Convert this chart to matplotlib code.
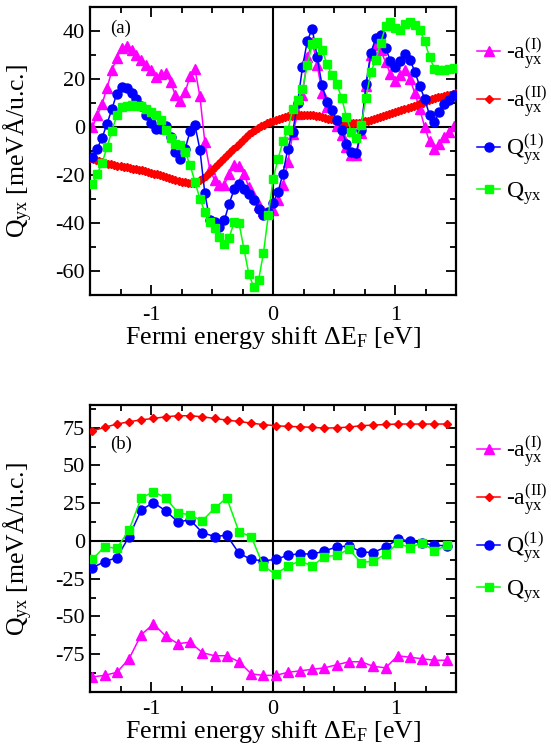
import numpy as np
import matplotlib
matplotlib.use("Agg")
import matplotlib.pyplot as plt

plt.rcParams['font.family'] = ['Liberation Serif', 'DejaVu Serif']
plt.rcParams['mathtext.fontset'] = 'custom'
plt.rcParams['mathtext.rm'] = 'Liberation Serif'
plt.rcParams['mathtext.it'] = 'Liberation Serif:italic'

# ---- panel (a): fine energy grid ----
E_a = np.round(np.arange(-1.48, 1.4801, 0.04), 3)
E_a_II = np.round(np.arange(-1.5, 1.5001, 0.025), 3)

aI_a = [0.0, 4.9, 9.7, 16.4, 23.6, 28.9, 33.1, 33.7, 32.2, 29.9,
        27.8, 26.0, 23.6, 20.8, 21.9, 22.5, 18.7, 13.2, 10.8, 14.6,
        21.4, 24.0, 12.8, -6.2, -17.4, -22.2, -24.3, -24.0, -19.4, -16.0,
        -16.4, -19.5, -25.0, -29.2, -32.5, -35.0, -36.0, -34.5, -30.5, -24.0,
        -14.5, -3.0, 5.5, 13.5, 29.0, 35.5, 26.0, 14.0, 8.5, 4.5,
        0.5, -3.5, -8.3, -11.5, -11.8, -2.5, 17.0, 30.0, 34.0, 32.0,
        27.0, 22.0, 19.0, 21.5, 23.6, 20.0, 14.0, 7.5, 0.0, -6.0,
        -9.0, -7.0, -4.2, -2.1, 0.5]

aII_a = [-13.0, -13.4, -13.8, -14.1, -14.5, -14.9, -15.3, -15.6, -16.0, -16.2,
         -16.4, -16.6, -16.8, -17.0, -17.3, -17.5, -17.8, -18.1, -18.4, -18.7,
         -19.0, -19.4, -19.7, -20.1, -20.5, -20.9, -21.3, -21.6, -22.0, -22.4,
         -22.8, -23.1, -23.3, -23.4, -23.3, -22.9, -22.2, -21.3, -20.3, -19.1,
         -17.8, -16.7, -15.5, -14.2, -13.0, -11.8, -10.5, -9.1, -7.8, -6.5,
         -5.3, -4.1, -3.0, -2.0, -1.2, -0.4, 0.3, 1.0, 1.6, 2.1,
         2.6, 3.1, 3.5, 3.9, 4.2, 4.5, 4.7, 4.9, 5.0, 5.1,
         5.1, 5.1, 5.0, 4.9, 4.7, 4.5, 4.2, 3.9, 3.5, 3.2,
         2.8, 2.4, 2.1, 1.8, 1.6, 1.5, 1.5, 1.6, 1.8, 2.0,
         2.3, 2.6, 3.0, 3.4, 3.8, 4.2, 4.6, 5.0, 5.4, 5.8,
         6.2, 6.6, 7.0, 7.4, 7.9, 8.3, 8.8, 9.3, 9.8, 10.2,
         10.7, 11.1, 11.6, 12.0, 12.3, 12.6, 12.9, 13.2, 13.5, 13.8,
         14.0]

Q1_a = [-12.5, -9.0, -4.4, 1.4, 7.6, 13.9, 16.7, 16.4, 14.2, 11.8,
        8.6, 5.1, 1.7, -0.7, -0.7, 0.3, -4.2, -10.4, -13.2, -9.0,
        -1.7, 0.7, -9.4, -27.5, -38.6, -39.6, -41.7, -38.9, -31.9, -26.0,
        -23.6, -25.7, -27.8, -30.6, -34.0, -36.8, -35.4, -31.5, -27.0, -19.4,
        -9.0, -2.0, 10.0, 25.0, 36.0, 41.0, 29.0, 17.4, 10.4, 7.0,
        3.0, -1.4, -6.9, -10.4, -10.8, -1.4, 18.0, 31.0, 37.0, 38.5,
        33.0, 27.5, 25.0, 27.5, 30.5, 28.0, 23.0, 17.0, 11.8, 5.0,
        2.0, 6.3, 9.7, 11.1, 13.2]

Q_a = [-23.6, -19.4, -14.9, -8.3, -1.5, 4.9, 8.3, 8.6, 9.0, 8.6,
       8.6, 7.6, 6.2, 4.9, 2.8, -1.4, -4.4, -6.9, -7.6, -10.4,
       -16.0, -22.9, -29.9, -35.4, -39.6, -42.1, -45.8, -48.6, -46.1, -39.6,
       -40.0, -50.7, -61.1, -66.7, -63.9, -52.6, -36.8, -21.5, -13.2, -6.0,
       -1.4, 7.6, 11.1, 15.8, 26.0, 34.5, 35.4, 32.0, 26.4, 21.5,
       18.0, 12.2, 4.2, -2.1, -4.4, 0.7, 12.2, 22.9, 28.0, 35.0,
       41.9, 43.7, 41.4, 40.3, 42.8, 43.7, 42.4, 40.3, 35.8, 29.2,
       24.3, 23.6, 23.6, 24.3, 24.7]

# ---- panel (b): coarse energy grid ----
E_b = np.round(np.arange(-1.48, 1.4201, 0.1), 3)

aI_b = [-90, -89, -87, -78, -62, -55, -63, -68, -67, -74,
        -76, -76, -80, -88, -89, -89, -87, -86, -85, -84,
        -82, -80, -80, -83, -84, -76, -77, -78, -79, -79]

aII_b = [72.9, 75.2, 77.4, 78.9, 80.2, 81.1, 82.2, 82.9, 82.9, 82.2,
         81.1, 80.0, 79.1, 78.0, 77.0, 76.3, 75.8, 75.6, 75.2, 74.7,
         74.9, 75.4, 76.3, 76.7, 77.1, 77.4, 77.4, 77.4, 77.4, 77.4]

Q1_b = [-17.7, -13.7, -11.1, 2.9, 20.6, 25.4, 19.9, 12.6, 14.0, 5.5,
        2.9, 3.8, -8.2, -12.2, -13.2, -12.2, -9.5, -8.4, -8.8, -6.6,
        -4.0, -3.3, -7.3, -7.7, -4.0, 1.1, 0.0, -1.5, -2.7, -3.3]

Q_b = [-12.2, -3.8, -4.9, 7.3, 28.5, 32.5, 28.5, 18.8, 17.2, 13.3,
       21.7, 28.5, 6.0, 2.9, -16.6, -22.1, -16.6, -13.3, -16.6, -10.4,
       -9.5, -5.5, -14.4, -13.3, -8.8, -1.5, -4.4, -1.1, -6.6, -2.9]

labels = [r'-a$_{\rm yx}^{\rm (I)}$', r'-a$_{\rm yx}^{\rm (II)}$',
          r'Q$_{\rm yx}^{\rm (1)}$', r'Q$_{\rm yx}$']

fig = plt.figure(figsize=(5.51, 7.46), dpi=100)
ax_a = fig.add_axes([0.1633, 0.6046, 0.665, 0.386])
ax_b = fig.add_axes([0.1633, 0.0724, 0.665, 0.3847])

def draw_panel(ax, ex, ex2, aI, aII, q1, q, xpad, lpad):
    ax.axhline(0, color='black', lw=1.5, zorder=1)
    ax.axvline(0, color='black', lw=1.5, zorder=1)
    ax.plot(ex, aI, '-^', color='#ff00ff', lw=1.1, ms=7, label=labels[0], zorder=2)
    ax.plot(ex2, aII, '-D', color='#ff0000', lw=1.1, ms=4.5, label=labels[1], zorder=3)
    ax.plot(ex, q1, '-o', color='#0000ff', lw=1.1, ms=6.5, label=labels[2], zorder=4)
    ax.plot(ex, q, '-s', color='#00ff00', lw=1.1, ms=5.3, label=labels[3], zorder=5)
    ax.set_xlim(-1.5, 1.5)
    ax.set_xticks([-1, 0, 1])
    ax.set_xticklabels(['-1', '0', '1'])
    ax.set_xticks(np.arange(-1.5, 1.51, 0.25), minor=True)
    ax.tick_params(which='both', direction='in', top=True, right=True,
                   labelsize=16, width=1.3)
    ax.tick_params(axis='x', which='both', pad=xpad)
    ax.tick_params(axis='y', which='both', pad=3.5)
    ax.tick_params(which='major', length=7)
    ax.tick_params(which='minor', length=4)
    for s in ax.spines.values():
        s.set_linewidth(1.6)
    ax.set_xlabel(r'Fermi energy shift $\Delta$E$_{\rm F}$ [eV]', fontsize=18.7, labelpad=lpad)
    ax.set_ylabel(r'Q$_{\rm yx}$ [meV$\rm\AA$/u.c.]', fontsize=18.5)
    ax.yaxis.set_label_coords(-0.15, 0.5)
    ax.legend(loc='upper left', bbox_to_anchor=(1.03, 0.93), frameon=False,
              fontsize=17, handlelength=1.0, handletextpad=0.25,
              labelspacing=0.56, borderaxespad=0)

draw_panel(ax_a, E_a, E_a_II, aI_a, aII_a, Q1_a, Q_a, 8, -1)
ax_a.set_ylim(-70, 50)
ax_a.set_yticks([-60, -40, -20, 0, 20, 40])
ax_a.set_yticklabels(['-60', '-40', '-20', '0', '20', '40'])
ax_a.set_yticks(np.arange(-70, 51, 10), minor=True)
ax_a.text(0.055, 0.955, '(a)', transform=ax_a.transAxes, fontsize=13.5, va='top')

draw_panel(ax_b, E_b, E_b, aI_b, aII_b, Q1_b, Q_b, 6, -1)
ax_b.set_ylim(-100, 90)
ax_b.set_yticks([-75, -50, -25, 0, 25, 50, 75])
ax_b.set_yticklabels(['-75', '-50', '-25', '0', '25', '50', '75'])
ax_b.set_yticks(np.arange(-100, 90.1, 12.5), minor=True)
ax_b.text(0.055, 0.893, '(b)', transform=ax_b.transAxes, fontsize=13.5, va='top')

fig.savefig('out.png', dpi=100)
